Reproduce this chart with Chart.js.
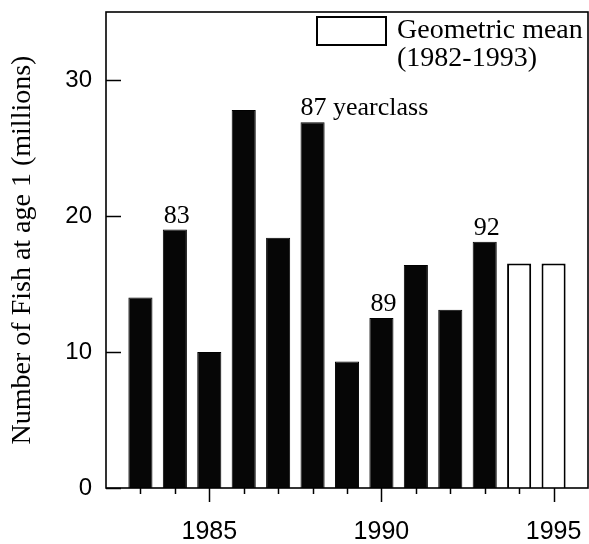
<!DOCTYPE html>
<html>
<head>
<meta charset="utf-8">
<title>Number of Fish at age 1</title>
<script src="https://cdn.jsdelivr.net/npm/chart.js@4/dist/chart.umd.min.js"></script>
<style>
  html, body { margin: 0; padding: 0; background: #ffffff; }
  canvas { display: block; }
</style>
</head>
<body>
<canvas id="fish" width="589" height="544"></canvas>
<script>
// Survey years and fish at age 1 (millions)
const surveyYears = [1983, 1984, 1985, 1986, 1987, 1988, 1989, 1990, 1991, 1992, 1993];
const fishAtAge1 = [14.0, 19.0, 10.0, 27.8, 18.4, 26.9, 9.3, 12.5, 16.4, 13.1, 18.1];

// Projection years, filled with the geometric mean of 1982-1993
const meanYears = [1994, 1995];
const meanValues = [16.5, 16.5];

// Year-class labels written above selected bars
const labelYears = [1984, 1988, 1990, 1993];
const labelTexts = ['83', '87 yearclass', '89', '92'];
const labelAlign = ['center', 'left', 'center', 'center'];

// Axis ticks
const yTickValues = [0, 10, 20, 30];
const xMajorYears = [1985, 1990, 1995];
const xMinorYears = [1983, 1984, 1986, 1987, 1988, 1989, 1991, 1992, 1993, 1994];

const legendLines = ['Geometric mean', '(1982-1993)'];

const SANS = '"Liberation Sans", Arial, Helvetica, sans-serif';
const SERIF = '"Liberation Serif", "Times New Roman", Times, serif';

// Keep the plot area exactly where the axis boxes put it
function noEdgePadding(scale) {
  scale.paddingLeft = 0;
  scale.paddingRight = 0;
  scale.paddingTop = 0;
  scale.paddingBottom = 0;
}

const frameAndMarks = {
  id: 'frameAndMarks',
  afterDatasetsDraw(chart) {
    const { ctx, chartArea: a, scales: { x, y } } = chart;
    ctx.save();
    ctx.strokeStyle = '#000';
    ctx.fillStyle = '#000';

    // plot frame
    ctx.lineWidth = 1.6;
    ctx.strokeRect(a.left, a.top, a.right - a.left, a.bottom - a.top);

    // y ticks point into the plot
    ctx.lineWidth = 1.5;
    yTickValues.forEach(v => {
      const py = Math.round(y.getPixelForValue(v)) + 0.5;
      ctx.beginPath();
      ctx.moveTo(a.left, py);
      ctx.lineTo(a.left + 15, py);
      ctx.stroke();
    });

    // x ticks point out of the plot, long on labelled years
    xMajorYears.forEach(v => {
      const px = Math.round(x.getPixelForValue(v)) + 0.5;
      ctx.beginPath();
      ctx.moveTo(px, a.bottom);
      ctx.lineTo(px, a.bottom + 14);
      ctx.stroke();
    });
    xMinorYears.forEach(v => {
      const px = Math.round(x.getPixelForValue(v)) + 0.5;
      ctx.beginPath();
      ctx.moveTo(px, a.bottom);
      ctx.lineTo(px, a.bottom + 6);
      ctx.stroke();
    });

    // year-class labels above their bars
    const meta = chart.getDatasetMeta(0);
    ctx.font = '26px ' + SERIF;
    ctx.textBaseline = 'alphabetic';
    labelYears.forEach((yr, i) => {
      const idx = surveyYears.indexOf(yr);
      const bar = meta.data[idx];
      const top = y.getPixelForValue(fishAtAge1[idx]);
      ctx.textAlign = labelAlign[i];
      const tx = labelAlign[i] === 'left' ? bar.x - bar.width / 2 : bar.x + 2;
      ctx.fillText(labelTexts[i], tx, top - 7);
    });

    // legend in the upper right of the plot
    const boxLeft = a.right - 271, boxTop = a.top + 5;
    ctx.fillStyle = '#fff';
    ctx.fillRect(boxLeft, boxTop, 69, 28);
    ctx.lineWidth = 2;
    ctx.strokeRect(boxLeft, boxTop, 69, 28);
    ctx.fillStyle = '#000';
    ctx.font = '28px ' + SERIF;
    ctx.textAlign = 'left';
    ctx.fillText(legendLines[0], a.right - 191, a.top + 26);
    ctx.fillText(legendLines[1], a.right - 191, a.top + 54);
    ctx.restore();
  }
};

new Chart(document.getElementById('fish'), {
  type: 'bar',
  data: {
    datasets: [
      {
        label: 'Fish at age 1',
        data: surveyYears.map((yr, i) => ({ x: yr, y: fishAtAge1[i] })),
        backgroundColor: '#060606',
        borderColor: '#000',
        borderWidth: 1,
        grouped: false,
        barPercentage: 0.7,
        categoryPercentage: 1.0
      },
      {
        label: 'Geometric mean (1982-1993)',
        data: meanYears.map((yr, i) => ({ x: yr, y: meanValues[i] })),
        backgroundColor: '#ffffff',
        borderColor: '#000',
        borderWidth: 2,
        grouped: false,
        barPercentage: 0.7,
        categoryPercentage: 1.0
      }
    ]
  },
  options: {
    responsive: false,
    animation: false,
    devicePixelRatio: 1,
    layout: { padding: { top: 12, right: 1, left: 0, bottom: 0 } },
    plugins: { legend: { display: false }, tooltip: { enabled: false } },
    scales: {
      x: {
        type: 'linear',
        min: 1982,
        max: 1996,
        offset: false,
        grid: { display: false, drawTicks: false },
        border: { display: false },
        afterBuildTicks(scale) { scale.ticks = xMajorYears.map(v => ({ value: v })); },
        afterFit(scale) { scale.height = 56; noEdgePadding(scale); },
        ticks: {
          color: '#000',
          font: { family: SANS, size: 25 },
          padding: 29,
          maxRotation: 0,
          autoSkip: false,
          callback: v => String(v)
        }
      },
      y: {
        min: 0,
        max: 35,
        grid: { display: false, drawTicks: false },
        border: { display: false },
        afterBuildTicks(scale) { scale.ticks = yTickValues.map(v => ({ value: v })); },
        afterFit(scale) { scale.width = 106; noEdgePadding(scale); },
        ticks: {
          color: '#000',
          font: { family: SANS, size: 24 },
          padding: 14,
          callback: v => String(v)
        },
        title: {
          display: true,
          text: 'Number of Fish at age 1 (millions)',
          color: '#000',
          font: { family: SERIF, size: 28, weight: 'normal' },
          padding: { top: 6, bottom: 0 }
        }
      }
    }
  },
  plugins: [frameAndMarks]
});
</script>
</body>
</html>
